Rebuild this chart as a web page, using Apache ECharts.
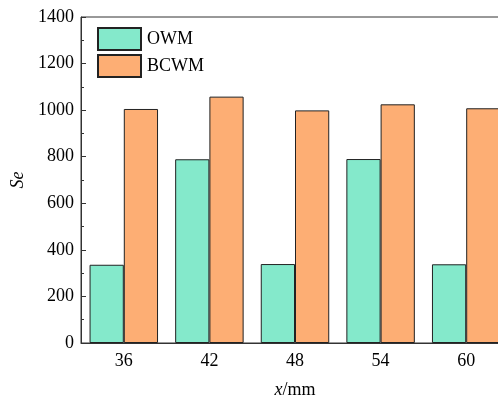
<!DOCTYPE html>
<html><head><meta charset="utf-8">
<script src="https://cdn.jsdelivr.net/npm/echarts@6/dist/echarts.min.js"></script>
<style>html,body{margin:0;padding:0;background:#fff}#c{width:498px;height:400px}</style>
</head><body><div id="c"></div>
<script>
const categories = ['36', '42', '48', '54', '60'];
const owm = [336, 789, 339, 790, 338];
const bcwm = [1005, 1058, 999, 1025, 1008];
const yTicks = [0, 200, 400, 600, 800, 1000, 1200, 1400];

const font = 'Liberation Serif';
const chart = echarts.init(document.getElementById('c'), null, {renderer: 'canvas'});
chart.setOption({
  animation: false,
  backgroundColor: '#fff',
  grid: {left: 81, top: 17, right: -11, bottom: 57, show: true, borderColor: '#333', borderWidth: 1,
         containLabel: false, outerBoundsMode: 'none'},
  legend: {
    orient: 'vertical', left: 97, top: 27, padding: 0, itemWidth: 43, itemHeight: 22, itemGap: 3,
    textStyle: {fontFamily: font, fontSize: 18, color: '#000', padding: [2, 0, 0, 1]},
    icon: 'rect',
    data: ['OWM', 'BCWM']
  },
  xAxis: {
    type: 'category', data: categories, boundaryGap: true,
    name: '{i|x}/mm', nameLocation: 'middle', nameGap: 38,
    nameTextStyle: {fontFamily: font, fontSize: 18, color: '#000', rich: {i: {fontFamily: font, fontSize: 18, fontStyle: 'italic', color: '#000'}}},
    axisLine: {lineStyle: {color: '#333', width: 1}},
    axisTick: {inside: true, length: 4, lineStyle: {color: '#333'}},
    axisLabel: {fontFamily: font, fontSize: 18, color: '#000', margin: 9}
  },
  yAxis: {
    type: 'value', min: yTicks[0], max: yTicks[yTicks.length - 1], interval: 200,
    name: 'Se', nameLocation: 'middle', nameGap: 54,
    nameTextStyle: {fontFamily: font, fontSize: 18, fontStyle: 'italic', color: '#000'},
    axisLine: {show: true, lineStyle: {color: '#333', width: 1}},
    axisTick: {show: true, inside: true, length: 5, lineStyle: {color: '#333'}},
    minorTick: {show: true, splitNumber: 2, length: 3, lineStyle: {color: '#333'}},
    splitLine: {show: false},
    axisLabel: {fontFamily: font, fontSize: 18, color: '#000', margin: 7, formatter: v => String(v)}
  },
  series: [
    {name: 'OWM', type: 'bar', data: owm, barGap: '0%', barCategoryGap: '20%',
     itemStyle: {color: '#84E9CB', borderColor: '#222', borderWidth: 1}},
    {name: 'BCWM', type: 'bar', data: bcwm, barGap: '0%', barCategoryGap: '20%',
     itemStyle: {color: '#FDAE74', borderColor: '#222', borderWidth: 1}}
  ]
});
</script></body></html>
